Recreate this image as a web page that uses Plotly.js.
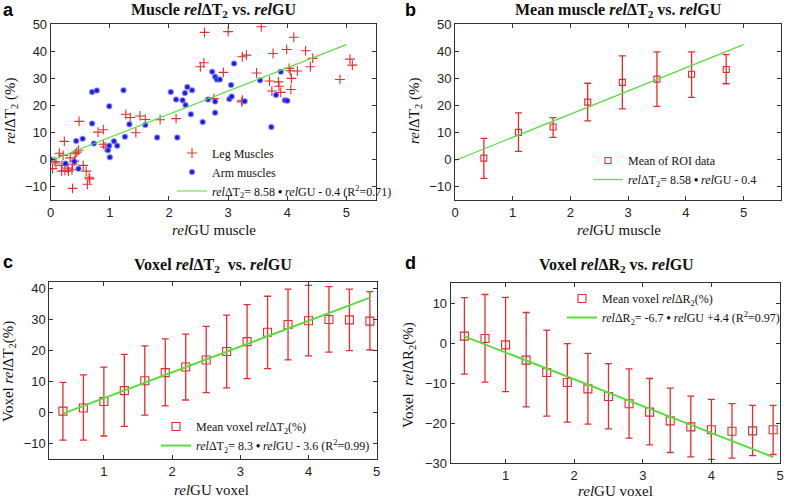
<!DOCTYPE html>
<html><head><meta charset="utf-8">
<script src="https://cdn.plot.ly/plotly-3.0.1.min.js"></script>
<style>html,body{margin:0;padding:0;background:#fff}#chart{width:787px;height:498px}</style>
</head><body><div id="chart"></div>
<script>
// ---------- Panel a: individual muscles ----------
const legX = [0.03,0.07,0.09,0.145,0.21,0.19,0.185,0.24,0.29,0.30,0.36,0.37,0.40,0.415,0.44,0.47,0.33,0.23,0.48,0.37,0.55,0.60,0.65,0.66,0.62,0.80,0.89,0.89,0.92,1.27,1.345,1.44,1.51,1.60,1.85,2.12,2.53,2.59,2.60,2.92,2.76,3.00,3.24,3.31,3.24,3.23,3.48,3.56,3.70,3.74,3.76,3.85,3.86,3.89,3.99,4.03,4.05,4.07,4.06,4.11,4.17,4.31,4.39,4.43,4.89,5.06,5.10];
const legY = [-3.4,-0.8,-1.3,2.3,1.5,-2.2,-4.3,-4.1,-3.2,-4.3,-3.8,-1.8,-0.6,2.1,2.7,3.4,0.6,6.7,14.1,-10.7,-2.2,-4.3,-6.6,-7.2,-9.2,10.1,11.0,5.6,4.6,16.7,15.5,9.9,16.1,14.8,14.7,15.1,34.3,35.8,47.0,32.2,22.5,47.3,38.0,38.6,21.9,21.3,32.0,49.1,29.0,25.3,39.2,28.7,27.1,24.8,40.7,33.7,32.8,30.0,25.9,45.2,32.7,40.2,34.3,37.4,29.6,37.1,34.9];
const armX = [0.00,0.25,0.40,0.47,0.43,0.54,0.70,0.70,0.78,0.73,0.99,0.99,0.97,1.07,1.125,1.00,1.23,1.255,1.33,1.60,1.80,2.03,2.12,2.14,2.23,2.27,2.28,2.31,2.37,2.39,2.57,2.66,2.73,2.78,2.78,2.78,2.81,2.86,3.02,3.06,3.05,3.10,3.28,3.54,3.73,3.81,3.89,3.96,4.00];
const armY = [0.0,-1.5,-0.8,-3.4,6.8,7.7,13.3,25.0,25.5,5.9,19.7,5.1,3.4,6.7,5.1,0.8,25.6,8.4,13.0,12.7,8.1,25.0,22.2,8.1,21.9,24.6,20.1,26.8,16.7,25.6,13.9,22.2,32.4,30.6,21.4,17.3,29.6,29.6,22.4,23.3,27.5,35.5,21.5,29.3,12.0,23.8,32.4,21.9,21.7];
const fitAX = [0, 5];
const fitAY = [-0.4, 42.5];

// ---------- Panel b: mean of ROI data ----------
const meanX = [0.5,1.1,1.7,2.3,2.9,3.5,4.1,4.7];
const meanY = [0.5,10.0,12.0,21.2,28.5,29.7,31.5,33.3];
const meanHi = [7.8,17.2,15.5,28.2,38.3,39.8,39.8,38.8];
const meanLo = [-7.0,3.0,8.2,14.3,18.7,19.6,23.0,28.0];
const fitBX = [0, 5];
const fitBY = [-0.4, 42.5];

// ---------- Panel c: voxel rel dT2 ----------
const voxX = [0.4,0.7,1.0,1.3,1.6,1.9,2.2,2.5,2.8,3.1,3.4,3.7,4.0,4.3,4.6,4.9];
const t2Y  = [0.5,1.5,3.6,7.1,10.3,12.9,14.7,17.0,19.7,22.9,25.9,28.4,29.6,30.0,29.9,29.5];
const t2Hi = [9.8,12.2,14.7,18.8,21.5,23.8,25.3,27.8,31.4,34.8,37.5,39.8,41.0,40.6,39.8,39.0];
const t2Lo = [-8.8,-8.8,-7.5,-4.4,-0.8,2.2,4.1,6.5,8.0,11.0,14.2,17.0,18.3,19.5,20.0,20.2];
const fitCX = [0.4, 4.9];
const fitCY = [-0.28, 37.07];

// ---------- Panel d: voxel rel dR2 ----------
const r2Y  = [1.8,1.2,-0.4,-4.2,-7.3,-9.8,-11.4,-13.3,-15.1,-17.2,-19.4,-20.9,-21.6,-22.0,-21.9,-21.6];
const r2Hi = [11.4,12.2,11.5,7.7,3.3,-0.1,-2.5,-5.1,-6.4,-8.8,-11.2,-13.2,-14.0,-15.1,-15.5,-15.5];
const r2Lo = [-7.7,-9.7,-12.1,-15.9,-18.2,-19.7,-20.2,-21.4,-23.7,-25.4,-27.3,-28.4,-29.0,-28.7,-28.1,-27.8];
const fitDX = [0.4, 4.9];
const fitDY = [1.72, -28.43];

const RED = 'rgb(228,45,45)';
const GREEN = 'rgb(85,222,60)';
const BLUE = 'rgb(25,25,225)';
const SERIF = 'Liberation Serif, Times New Roman, serif';
const SANS = 'Liberation Sans, Arial, sans-serif';

function up(hi, y){ return hi.map((h,i)=>+(h - y[i]).toFixed(2)); }
function dn(lo, y){ return lo.map((l,i)=>+(y[i] - l).toFixed(2)); }

const traces = [
  {x: legX, y: legY, xaxis:'x', yaxis:'y', type:'scatter', mode:'markers', name:'Leg Muscles', legend:'legend',
   marker:{symbol:'cross-thin-open', size:7, color:RED, line:{color:'rgba(228,45,45,0.85)', width:1.1}}},
  {x: armX, y: armY, xaxis:'x', yaxis:'y', type:'scatter', mode:'markers', name:'Arm muscles', legend:'legend',
   marker:{symbol:'circle', size:5, color:BLUE, line:{color:'rgba(110,110,255,0.55)', width:1.5}}},
  {x: fitAX, y: fitAY, xaxis:'x', yaxis:'y', type:'scatter', mode:'lines', legend:'legend',
   name:'<i>rel</i>ΔT<sub>2</sub>= 8.58 <b>•</b> <i>rel</i>GU - 0.4 (R<sup>2</sup>=0.71)',
   line:{color:GREEN, width:1.2}},

  {x: meanX, y: meanY, xaxis:'x2', yaxis:'y2', type:'scatter', mode:'markers', name:'Mean of ROI data', legend:'legend2',
   marker:{symbol:'square-open', size:6, color:RED, line:{width:1.1}},
   error_y:{type:'data', symmetric:false, array: up(meanHi, meanY), arrayminus: dn(meanLo, meanY), color:RED, thickness:1.3, width:3.5}},
  {x: fitBX, y: fitBY, xaxis:'x2', yaxis:'y2', type:'scatter', mode:'lines', legend:'legend2',
   name:'<i>rel</i>ΔT<sub>2</sub>= 8.58 <b>•</b> <i>rel</i>GU - 0.4',
   line:{color:GREEN, width:1.2}},

  {x: voxX, y: t2Y, xaxis:'x3', yaxis:'y3', type:'scatter', mode:'markers', name:'Mean voxel <i>rel</i>ΔT<sub>2</sub>(%)', legend:'legend3',
   marker:{symbol:'square-open', size:8, color:RED, line:{width:1.1}},
   error_y:{type:'data', symmetric:false, array: up(t2Hi, t2Y), arrayminus: dn(t2Lo, t2Y), color:RED, thickness:1.3, width:3.5}},
  {x: fitCX, y: fitCY, xaxis:'x3', yaxis:'y3', type:'scatter', mode:'lines', legend:'legend3',
   name:'<i>rel</i>ΔT<sub>2</sub>= 8.3 <b>•</b> <i>rel</i>GU - 3.6 (R<sup>2</sup>=0.99)',
   line:{color:GREEN, width:2}},

  {x: voxX, y: r2Y, xaxis:'x4', yaxis:'y4', type:'scatter', mode:'markers', name:'Mean voxel <i>rel</i>ΔR<sub>2</sub>(%)', legend:'legend4',
   marker:{symbol:'square-open', size:8, color:RED, line:{width:1.1}},
   error_y:{type:'data', symmetric:false, array: up(r2Hi, r2Y), arrayminus: dn(r2Lo, r2Y), color:RED, thickness:1.3, width:3.5}},
  {x: fitDX, y: fitDY, xaxis:'x4', yaxis:'y4', type:'scatter', mode:'lines', legend:'legend4',
   name:'<i>rel</i>ΔR<sub>2</sub>= -6.7 <b>•</b> <i>rel</i>GU +4.4 (R<sup>2</sup>=0.97)',
   line:{color:GREEN, width:2}}
];

const W = 787, H = 498;
const px = v => v / W;
const py = v => 1 - v / H;

function ax(domain, range, dtick, anchor, extra){
  return Object.assign({domain: domain, range: range, dtick: dtick, tick0: 0, anchor: anchor,
    showline:true, mirror:'ticks', linecolor:'#333', linewidth:1, ticks:'inside', ticklen:4, tickcolor:'#333',
    showgrid:false, zeroline:false, tickfont:{family:SANS, size:13, color:'#222'}, fixedrange:true}, extra||{});
}

const legFont = {family:SERIF, size:12, color:'#111'};
function leg(x, y){ return {x:px(x), y:py(y), xanchor:'left', yanchor:'middle', bgcolor:'rgba(0,0,0,0)', borderwidth:0, font:legFont, tracegroupgap:0}; }

const annFontT = {family:SERIF, size:16, color:'#111'};
const annFontA = {family:SERIF, size:15, color:'#111'};
function ann(text, x, y, font, angle){
  return {text:text, x:px(x), y:py(y), xref:'paper', yref:'paper', showarrow:false, xanchor:'center', yanchor:'middle', font:font, textangle: angle||0};
}
const labFont = {family:SANS, size:18, color:'#000'};

const layout = {
  width: W, height: H, margin:{l:0,r:0,t:0,b:0}, paper_bgcolor:'#fff', plot_bgcolor:'#fff',
  showlegend:true,
  xaxis:  ax([px(50.7), px(376)], [0, 5.5], 1, 'y'),
  yaxis:  ax([py(200), py(24.3)], [-15, 50], 10, 'x'),
  xaxis2: ax([px(455), px(781)], [0, 5.65], 1, 'y2'),
  yaxis2: ax([py(200), py(24.3)], [-15, 50], 10, 'x2'),
  xaxis3: ax([px(49.3), px(376.7)], [0.2, 5], 1, 'y3'),
  yaxis3: ax([py(459.3), py(282.3)], [-15, 42], 10, 'x3'),
  xaxis4: ax([px(450.7), px(780)], [0.2, 5], 1, 'y4'),
  yaxis4: ax([py(463.3), py(283.3)], [-30, 15], 10, 'x4'),
  legend:  leg(172, 172),
  legend2: leg(588, 170),
  legend3: leg(156, 436),
  legend4: leg(562, 308),
  annotations: [
    ann('<b>Muscle <i>rel</i>ΔT<sub>2</sub> vs. <i>rel</i>GU</b>', 213, 10, annFontT),
    ann('<b>Mean muscle <i>rel</i>ΔT<sub>2</sub> vs. <i>rel</i>GU</b>', 618, 10, annFontT),
    ann('<b>Voxel <i>rel</i>ΔT<sub>2</sub>  vs. <i>rel</i>GU</b>', 213, 265, annFontT),
    ann('<b>Voxel <i>rel</i>ΔR<sub>2</sub> vs. <i>rel</i>GU</b>', 616, 265, annFontT),
    ann('<i>rel</i>GU muscle', 214, 230, annFontA),
    ann('<i>rel</i>GU muscle', 619, 230, annFontA),
    ann('<i>rel</i>GU voxel', 212, 490, annFontA),
    ann('<i>rel</i>GU voxel', 615, 491, annFontA),
    ann('<i>rel</i>ΔT<sub>2</sub> (%)', 11, 111, annFontA, -90),
    ann('<i>rel</i>ΔT<sub>2</sub> (%)', 415, 111, annFontA, -90),
    ann('Voxel <i>rel</i>ΔT<sub>2</sub>(%)', 9, 372, annFontA, -90),
    ann('Voxel  <i>rel</i>ΔR<sub>2</sub>(%)', 409, 375, annFontA, -90),
    ann('<b>a</b>', 8, 10, labFont),
    ann('<b>b</b>', 410, 10, labFont),
    ann('<b>c</b>', 8, 262, labFont),
    ann('<b>d</b>', 410, 263, labFont)
  ]
};

Plotly.newPlot('chart', traces, layout, {displayModeBar:false, staticPlot:true});
</script></body></html>
